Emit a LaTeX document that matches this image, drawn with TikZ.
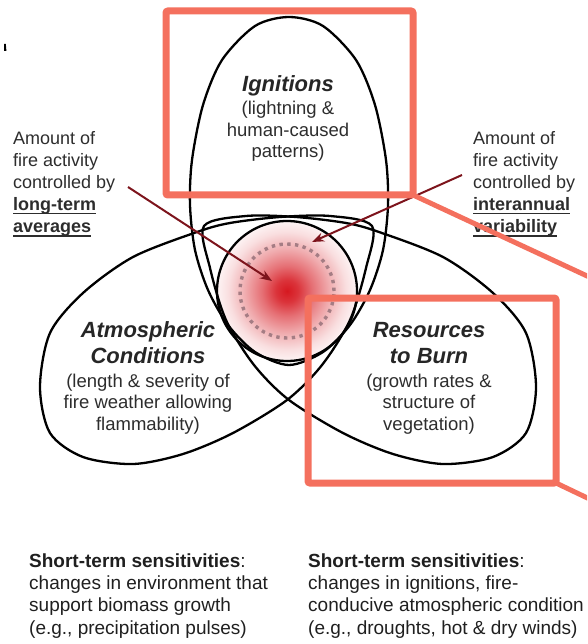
\documentclass[tikz,border=0pt]{standalone}
\usepackage{fontspec}
\setmainfont{Liberation Sans}
\usetikzlibrary{arrows.meta}
\usetikzlibrary{positioning}

\definecolor{glowred}{RGB}{214,24,32}
\definecolor{arrowred}{RGB}{125,20,28}
\definecolor{markred}{RGB}{244,112,94}
\definecolor{dotgray}{RGB}{165,125,132}
\definecolor{inkgray}{RGB}{45,45,45}

% red core fading out to the rim (rim sits at 25bp)
\pgfdeclareradialshading{fireglow}{\pgfpoint{0bp}{0bp}}{%
  color(0bp)=(glowred); color(4bp)=(glowred!88!white);
  color(9bp)=(glowred!62!white); color(15bp)=(glowred!36!white);
  color(21bp)=(glowred!14!white); color(25bp)=(glowred!5!white);
  color(50bp)=(white)}

\newcommand{\headfont}{\fontsize{22pt}{26pt}\selectfont\bfseries\itshape}
\newcommand{\bodyfont}{\fontsize{18.5pt}{21.5pt}\selectfont}
\newcommand{\notefont}{\fontsize{18pt}{22pt}\selectfont}
\newcommand{\ulbold}[1]{\sbox0{\textbf{#1}}\rlap{\rule[-3.5pt]{\wd0}{1.6pt}}\usebox0}

\begin{document}
\begin{tikzpicture}[x=1pt,y=-1pt,
  egg/.style={draw=black,line width=2.3pt},
  redbox/.style={draw=markred,line width=7pt,rounded corners=2pt},
  redline/.style={draw=markred,line width=5pt},
  pointer/.style={draw=arrowred,line width=2pt,-{Stealth[length=12pt,width=9pt]}},
  head/.style={font=\headfont,text=black!85,align=center,inner sep=0pt,anchor=base},
  body/.style={font=\bodyfont,text=inkgray,align=center,inner sep=0pt,anchor=base},
  note/.style={font=\notefont,text=inkgray,align=left,inner sep=0pt,anchor=base west},
  shortterm/.style={font=\fontsize{19pt}{22.3pt}\selectfont,text=black!88,align=left,inner sep=0pt,anchor=base west}]
\useasboundingbox (0,0) rectangle (587,644);
\clip (0,0) rectangle (587,644);

% glowing overlap in the middle
\coordinate (core) at (287,291);
\shade[shading=fireglow] (core) circle[radius=70pt];
\draw[dotgray,line width=3.4pt,dash pattern=on 3.4pt off 4.4pt] (core) circle[radius=47pt];

% the three eggs
\draw[egg] plot[smooth cycle] coordinates {(289,17) (323,26) (356,60) (375,105) (386,160) (388,205)
  (383,250) (370,290) (350,325) (323,352) (289,365) (255,352) (228,325) (208,290) (195,250)
  (190,205) (192,160) (203,105) (222,60) (255,26)};
\draw[egg] plot[smooth cycle] coordinates {(372,226) (330,216) (280,217) (230,223) (197,232)
  (133,257) (83,293) (50,333) (40,387) (50,433) (83,457) (133,464) (183,454) (233,433)
  (287,400) (322,365) (350,320) (366,268)};
\draw[egg] plot[smooth cycle] coordinates {(204,226) (246,216) (296,217) (346,223) (379,232)
  (443,257) (493,293) (526,333) (536,387) (526,433) (493,457) (443,464) (393,454) (343,433)
  (289,400) (254,365) (226,320) (210,268)};
\draw[egg] (core) circle[radius=70pt];

% labels inside the eggs (base = last line)
\node[head] (ign) at (288,92) {Ignitions};
\node[body] (igntxt) at (288,158) {(lightning \&\\human-caused\\patterns)};
\node[head] (atm) at (148,363) {Atmospheric\\Conditions};
\node[body] (atmtxt) at (148,430) {(length \& severity of\\fire weather allowing\\flammability)};
\node[head] (res) at (429,363) {Resources\\to Burn};
\node[body] (restxt) at (429,430) {(growth rates \&\\structure of\\vegetation)};

% side notes and their arrows
\node[note] (ltnote) at (13,233) {Amount of\\fire activity\\controlled by\\\ulbold{long-term}\\\ulbold{averages}};
\node[note] (ianote) at (473,233) {Amount of\\fire activity\\controlled by\\\ulbold{interannual}\\\ulbold{variability}};
\coordinate (lttail) at (128,187);
\coordinate (lthead) at (272,281);
\coordinate (iatail) at (462,175);
\coordinate (iahead) at (312,242);
\draw[pointer] (lttail) -- (lthead);
\draw[pointer] (iatail) -- (iahead);

% bottom captions
\node[shortterm] (stbio) at (29,634) {\textbf{Short-term sensitivities}:\\changes in environment that\\support biomass growth\\(e.g., precipitation pulses)};
\node[shortterm] (stfire) at (308,634) {\textbf{Short-term sensitivities}:\\changes in ignitions, fire-\\conducive atmospheric condition\\(e.g., droughts, hot \& dry winds)};

% highlight boxes
\draw[redbox] (166,11) rectangle (413,195);
\draw[redbox] (308,298) rectangle (556,483);
\coordinate (ignbox) at (413,195);
\coordinate (resbox) at (556,483);
\draw[redline] (ignbox) -- (600,282);
\draw[redline] (resbox) -- (600,504);

\fill (4,44) -- (5.8,44) -- (6.4,51) -- (4,51) -- cycle;
\end{tikzpicture}
\end{document}
